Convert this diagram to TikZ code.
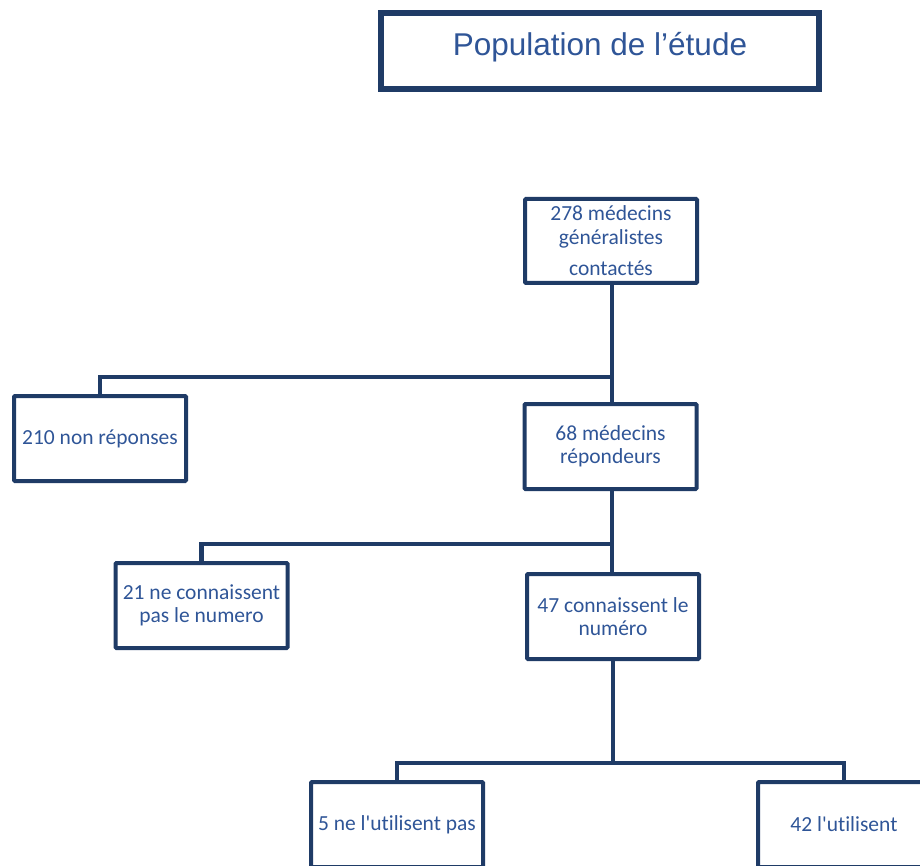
\documentclass[tikz,border=0pt]{standalone}
\usepackage{fontspec}
\setmainfont{Carlito}[Ligatures=NoCommon]
\newfontfamily\titlefont{Liberation Sans}
\definecolor{linec}{HTML}{1F3B66}
\definecolor{textc}{HTML}{2F5597}
\begin{document}
\begin{tikzpicture}[x=1pt,y=-1pt,
  box/.style={draw=linec, line width=4pt, rounded corners=1pt, minimum width=172pt, minimum height=85pt,
    inner sep=0pt, align=center, text=textc, font=\fontsize{21.5}{23.5}\selectfont},
  conn/.style={draw=linec, line width=4.5pt},
  titlebox/.style={draw=linec, line width=6pt, minimum width=438pt, minimum height=76pt, inner sep=0pt,
    text=textc, font=\titlefont\fontsize{31.5}{34}\selectfont, text height=20pt, text depth=10pt}]
\useasboundingbox (0,0) rectangle (920,866);
\clip (0,0) rectangle (920,866);
\node[titlebox] (title) at (600,51) {Population de l’étude};
\node[box, minimum height=84pt] (t) at (611,241) {278 médecins\\généralistes\\[8pt]contactés};
\node[box] (nr) at (100,438.5) {210 non réponses};
\node[box] (r) at (610.5,446.5) {68 médecins\\répondeurs};
\node[box] (nc) at (201.5,605.5) {21 ne connaissent\\pas le numero};
\node[box] (c) at (613,616.5) {47 connaissent le\\numéro};
\node[box] (np) at (397,824.5) {5 ne l\textquotesingle utilisent pas};
\node[box] (u) at (844,824.5) {42 l\textquotesingle utilisent};
\coordinate (j1) at (612,377);
\coordinate (j2) at (612,544);
\coordinate (j3) at (613,763);
\draw[conn] (t.south -| j1) -- (j1 |- r.north);
\draw[conn] (j1) -| (nr.north);
\draw[conn] (r.south -| j2) -- (j2 |- c.north);
\draw[conn] (j2) -| (nc.north);
\draw[conn] (c.south -| j3) -- (j3);
\draw[conn] (np.north) |- (j3) -| (u.north);
\end{tikzpicture}
\end{document}
